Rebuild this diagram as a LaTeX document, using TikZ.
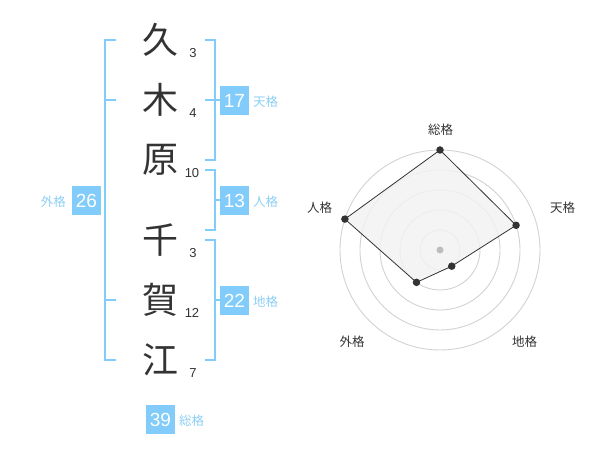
\documentclass[tikz,border=0pt]{standalone}
\usepackage{fontspec}
\setmainfont{Liberation Sans}
\newfontfamily\cjk{Noto Sans CJK JP}
\usetikzlibrary{calc}
\definecolor{boxblue}{RGB}{129,204,250}
\definecolor{lblblue}{RGB}{140,207,245}
\definecolor{ink}{RGB}{51,51,51}
\definecolor{ringgray}{RGB}{210,210,210}
\definecolor{polyfill}{RGB}{242,242,242}
\tikzset{
  kanji/.style={inner sep=0pt, text=ink, font=\cjk\fontsize{36}{36}\selectfont},
  stroke/.style={inner sep=0pt, text=ink, font=\fontsize{13}{13}\selectfont},
  scorebox/.style={fill=boxblue, text=white, minimum width=29pt, minimum height=29pt, inner sep=0pt, font=\fontsize{19}{19}\selectfont},
  scorelbl/.style={inner sep=0pt, text=lblblue, font=\cjk\fontsize{12.5}{12.5}\selectfont},
  bracket/.style={draw=boxblue, line width=2pt},
  ring/.style={draw=ringgray, line width=0.9pt},
  axislbl/.style={inner sep=0pt, text=ink, font=\cjk\fontsize{12.5}{12.5}\selectfont},
  vdot/.style={circle, fill=ink, inner sep=0pt, minimum size=7.5pt},
}
\begin{document}
\begin{tikzpicture}[x=1pt,y=-1pt]
\useasboundingbox (0,0) rectangle (600,470);
% kanji
\node[kanji] (k1) at (160,40) {久};
\node[kanji] (k2) at (160,100) {木};
\node[kanji] (k3) at (160,160) {原};
\node[kanji] (k4) at (160,240) {千};
\node[kanji] (k5) at (160,300) {賀};
\node[kanji] (k6) at (160,360) {江};
% stroke counts
\node[stroke] (s1) at (193,53) {3};
\node[stroke] (s2) at (193,113) {4};
\node[stroke] (s3) at (192,173) {10};
\node[stroke] (s4) at (193,253) {3};
\node[stroke] (s5) at (192,313) {12};
\node[stroke] (s6) at (193,373) {7};
% brackets
\draw[bracket] (116,40) -- (105,40) -- (105,360) -- (116,360);
\draw[bracket] (105,100) -- (116,100);
\draw[bracket] (105,300) -- (116,300);
\draw[bracket] (205,40) -- (215,40) -- (215,160) -- (205,160);
\draw[bracket] (205,100) -- (220,100);
\draw[bracket] (205,170) -- (215,170) -- (215,230) -- (205,230);
\draw[bracket] (215,200) -- (220,200);
\draw[bracket] (205,240) -- (215,240) -- (215,360) -- (205,360);
\draw[bracket] (215,300) -- (220,300);
% score boxes
\node[scorebox] (b17) at (234.5,100.5) {17};
\node[scorelbl, anchor=west] (l17) at (253,102) {天格};
\node[scorebox] (b13) at (234.5,200.5) {13};
\node[scorelbl, anchor=west] (l13) at (253,202) {人格};
\node[scorebox] (b22) at (234.5,300.5) {22};
\node[scorelbl, anchor=west] (l22) at (253,302) {地格};
\node[scorebox] (b26) at (86.5,200.5) {26};
\node[scorelbl, anchor=east] (l26) at (66,202) {外格};
\node[scorebox] (b39) at (160.5,419.5) {39};
\node[scorelbl, anchor=west] (l39) at (179,421) {総格};
% radar
\coordinate (C) at (440,250);
\foreach \r in {20,40,60,80,100} \draw[ring] (C) circle[radius=\r pt];
\coordinate (pS) at ($(C)+(-90:100)$);
\coordinate (pT) at ($(C)+(-18:80)$);
\coordinate (pC) at ($(C)+(54:20)$);
\coordinate (pG) at ($(C)+(126:40)$);
\coordinate (pJ) at ($(C)+(-162:100)$);
\draw[fill=polyfill, fill opacity=0.85, draw=ink, line width=0.8pt] (pS) -- (pT) -- (pC) -- (pG) -- (pJ) -- cycle;
\node[circle, fill=ringgray!90!black, inner sep=0pt, minimum size=7pt] (ctr) at (C) {};
\node[vdot] (dS) at (pS) {};
\node[vdot] (dT) at (pT) {};
\node[vdot] (dC) at (pC) {};
\node[vdot] (dG) at (pG) {};
\node[vdot] (dJ) at (pJ) {};
\node[axislbl] (aS) at (440.5,130) {総格};
\node[axislbl] (aT) at (562.5,208) {天格};
\node[axislbl] (aJ) at (319.5,208) {人格};
\node[axislbl] (aG) at (352,342) {外格};
\node[axislbl] (aC) at (524.5,342) {地格};
\end{tikzpicture}
\end{document}
